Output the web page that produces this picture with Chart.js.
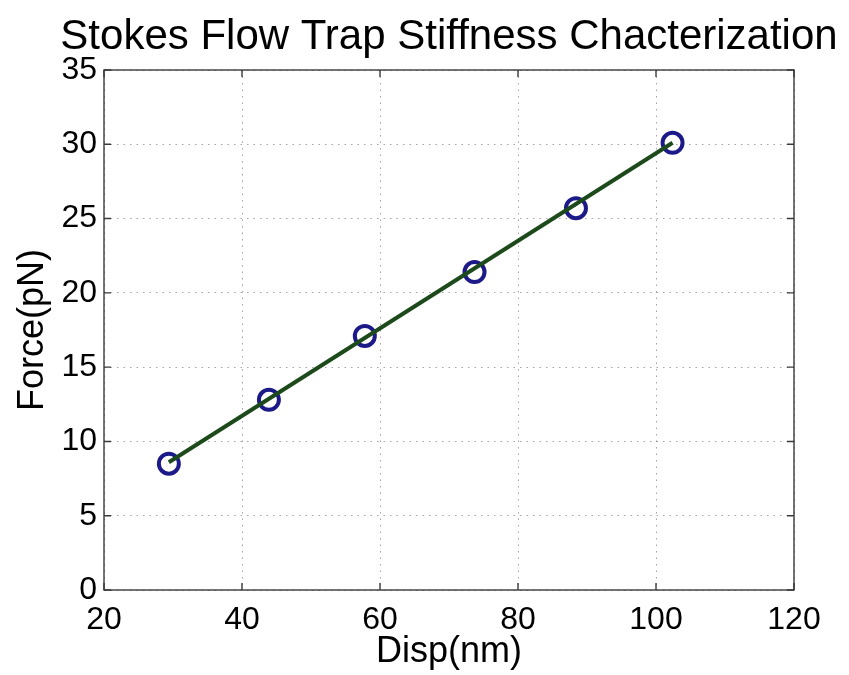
<!DOCTYPE html>
<html>
<head>
<meta charset="utf-8">
<title>Stokes Flow Trap Stiffness</title>
<script src="https://cdn.jsdelivr.net/npm/chart.js@4/dist/chart.umd.min.js"></script>
<style>
    html, body {
        margin: 0;
        padding: 0;
        background: #ffffff;
    }

    #wrap {
        width: 849px;
        height: 675px;
    }
</style>
</head>
<body>
<div id="wrap">
    <canvas id="trap_chart"></canvas>
</div>
<script>
// measured bead displacement vs. applied Stokes drag force
const dispNm = [29.4, 43.9, 57.8, 73.7, 88.4, 102.4];
const forcePn = [8.5, 12.8, 17.1, 21.4, 25.7, 30.1];

// linear fit, drawn between the first and last displacement
const fitDisp = [29.4, 102.4];
const fitForce = [8.6, 30.1];

const xTicks = [20, 40, 60, 80, 100, 120];
const yTicks = [0, 5, 10, 15, 20, 25, 30, 35];

const TITLE = "Stokes Flow Trap Stiffness Chacterization";
const FONT = "'Liberation Sans', Arial, Helvetica, sans-serif";

function toPoints(xs, ys) {
    return xs.map((x, i) => ({ x: x, y: ys[i] }));
}

// title centred over the plot area; allowed to run wider than the axes
const titlePlugin = {
    id: "wideTitle",
    afterDraw(chart) {
        const { ctx, chartArea: a } = chart;

        ctx.save();
        ctx.font = "42px " + FONT;
        ctx.fillStyle = "#000000";
        ctx.textAlign = "center";
        ctx.textBaseline = "alphabetic";
        ctx.fillText(TITLE, (a.left + a.right) / 2, a.top - 21);
        ctx.restore();
    }
};

// closed box around the plot area with short inward ticks on every side
const boxPlugin = {
    id: "axesBox",
    afterDatasetsDraw(chart) {
        const { ctx, chartArea: a, scales } = chart;
        const tick = 7;

        ctx.save();
        ctx.strokeStyle = "#3a3a3a";
        ctx.lineWidth = 1.4;
        ctx.strokeRect(a.left, a.top, a.right - a.left, a.bottom - a.top);

        ctx.beginPath();
        xTicks.forEach(v => {
            const px = scales.x.getPixelForValue(v);
            ctx.moveTo(px, a.bottom);
            ctx.lineTo(px, a.bottom - tick);
            ctx.moveTo(px, a.top);
            ctx.lineTo(px, a.top + tick);
        });
        yTicks.forEach(v => {
            const py = scales.y.getPixelForValue(v);
            ctx.moveTo(a.left, py);
            ctx.lineTo(a.left + tick, py);
            ctx.moveTo(a.right, py);
            ctx.lineTo(a.right - tick, py);
        });
        ctx.stroke();
        ctx.restore();
    }
};

new Chart(document.getElementById("trap_chart"), {
    type: "scatter",

    data: {
        datasets: [
            {
                label: "fit",
                data: toPoints(fitDisp, fitForce),
                showLine: true,
                borderColor: "#1d4a1b",
                borderWidth: 4,
                pointRadius: 0,
                fill: false,
                order: 0
            },
            {
                label: "data",
                data: toPoints(dispNm, forcePn),
                pointStyle: "circle",
                pointRadius: 10,
                pointBorderWidth: 4,
                pointBorderColor: "#1c1a88",
                pointBackgroundColor: "rgba(0, 0, 0, 0)",
                showLine: false,
                order: 1
            }
        ]
    },

    options: {
        responsive: true,
        maintainAspectRatio: false,
        animation: false,
        events: [],

        layout: {
            padding: {
                top: 70,
                right: 55,
                bottom: 0,
                left: 0
            }
        },

        scales: {
            x: {
                type: "linear",
                min: 20,
                max: 120,
                afterBuildTicks(scale) {
                    scale.ticks = xTicks.map(v => ({ value: v }));
                },
                afterFit(scale) {
                    scale.height = 85;
                },
                title: {
                    display: true,
                    text: "Disp(nm)",
                    color: "#000000",
                    padding: { top: 0, bottom: 1 },
                    font: { family: FONT, size: 36 }
                },
                ticks: {
                    color: "#000000",
                    padding: 11,
                    maxRotation: 0,
                    font: { family: FONT, size: 32 }
                },
                grid: {
                    color: "rgba(90, 90, 90, 0.55)",
                    lineWidth: 1,
                    drawTicks: false
                },
                border: {
                    display: false,
                    dash: [1.5, 5]
                }
            },

            y: {
                type: "linear",
                min: 0,
                max: 35,
                afterBuildTicks(scale) {
                    scale.ticks = yTicks.map(v => ({ value: v }));
                },
                afterFit(scale) {
                    scale.width = 104;
                },
                title: {
                    display: true,
                    text: "Force(pN)",
                    color: "#000000",
                    padding: { top: 11, bottom: 0 },
                    font: { family: FONT, size: 36 }
                },
                ticks: {
                    color: "#000000",
                    padding: 7,
                    font: { family: FONT, size: 32 }
                },
                grid: {
                    color: "rgba(90, 90, 90, 0.55)",
                    lineWidth: 1,
                    drawTicks: false
                },
                border: {
                    display: false,
                    dash: [1.5, 5]
                }
            }
        },

        plugins: {
            legend: {
                display: false
            },

            tooltip: {
                enabled: false
            },

            title: {
                display: false
            }
        }
    },

    plugins: [boxPlugin, titlePlugin]
});
</script>
</body>
</html>
